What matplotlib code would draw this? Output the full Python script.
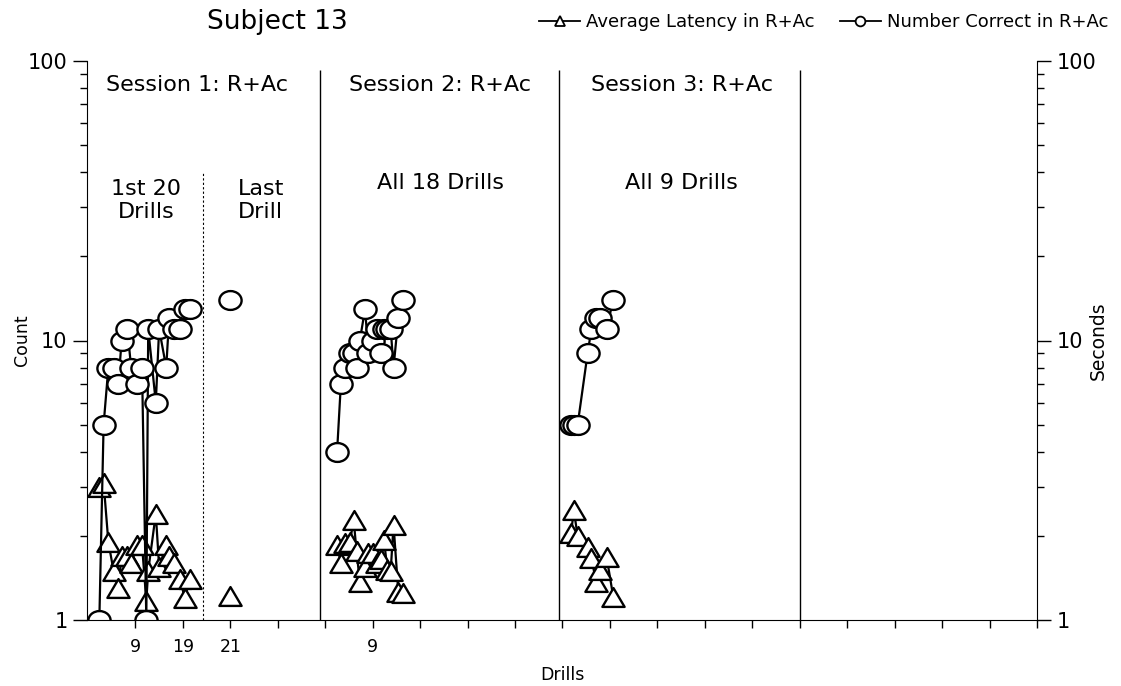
import numpy as np
import matplotlib
matplotlib.use("Agg")
import matplotlib.pyplot as plt
from matplotlib.lines import Line2D
from matplotlib.path import Path
from matplotlib.transforms import Affine2D
from matplotlib.ticker import NullFormatter

plt.rcParams['font.family'] = ['DejaVu Sans']

# session 1, first 20 drills (x in axis units)
s1_x = [1.4, 2.3, 3.3, 4.4, 5.4, 6.1, 7.3, 8.1, 9.4, 10.4,
        11.3, 11.7, 13.3, 14.0, 15.5, 16.1, 17.2, 18.4, 19.4, 20.5]
s1_count = [1, 5, 8, 8, 7, 10, 11, 8, 7, 8, 1, 11, 6, 11, 8, 12, 11, 11, 13, 13]
s1_lat = [3.0, 3.1, 1.9, 1.5, 1.3, 1.7, 1.7, 1.6, 1.85, 1.85,
          1.17, 1.5, 2.4, 1.55, 1.85, 1.7, 1.6, 1.4, 1.2, 1.4]

# session 1, last drill
last_x = [29]
last_count = [14]
last_lat = [1.22]

# session 2, all 18 drills
s2_x = [51.5, 52.3, 53.1, 54.2, 55.0, 55.6, 56.3, 57.4, 58.1, 59.1,
        60.0, 60.8, 61.4, 62.1, 62.8, 63.4, 64.4, 65.4]
s2_count = [4, 7, 8, 9, 9, 8, 10, 13, 9, 10, 11, 9, 11, 11, 11, 8, 12, 14]
s2_lat = [1.85, 1.6, 1.88, 1.9, 2.28, 1.76, 1.37, 1.55, 1.73, 1.73,
          1.6, 1.65, 1.93, 1.51, 1.5, 2.19, 1.26, 1.25]

# session 3, all 9 drills
s3_x = [100.8, 101.4, 102.2, 104.3, 105.1, 106.1, 106.9, 108.3, 109.7]
s3_count = [5, 5, 5, 9, 11, 12, 12, 11, 14]
s3_lat = [2.04, 2.47, 1.99, 1.83, 1.66, 1.37, 1.51, 1.68, 1.21]

session_lines = [48, 98.3, 149]
split_line = 23.2
tick_pos = list(range(9, 200, 10))
tick_labels = {9: '9', 19: '19', 29: '21', 59: '9'}

# slightly wide markers, like the original
oval = Path.unit_circle().transformed(Affine2D().scale(1.18, 1.0))
tri = Path([(0, 1), (-1.18, -1), (1.18, -1), (0, 1)],
           [Path.MOVETO, Path.LINETO, Path.LINETO, Path.CLOSEPOLY])

fig = plt.figure(figsize=(11.21, 6.86), dpi=100)
ax = fig.add_axes([87 / 1121, 66 / 686, 950 / 1121, 559 / 686])

mk = dict(color='black', lw=1.6, mfc='white', mec='black', mew=1.7)
for xs, cnt, lat in [(s1_x, s1_count, s1_lat), (last_x, last_count, last_lat),
                     (s2_x, s2_count, s2_lat), (s3_x, s3_count, s3_lat)]:
    ax.plot(xs, lat, marker=tri, ms=16, **mk)
    ax.plot(xs, cnt, marker=oval, ms=16, **mk)

ax.set_yscale('log')
ax.set_ylim(1, 100)
ax.set_xlim(-1.2, 199)

for xv in session_lines:
    ax.vlines(xv, 1, 93, color='black', lw=1)
ax.vlines(split_line, 1, 40, color='black', lw=0.8, linestyles=(0, (2, 2)))

ax.set_xticks(tick_pos)
ax.set_xticklabels([tick_labels.get(t, '') for t in tick_pos], fontsize=12.5)
ax.tick_params(axis='x', direction='out', length=6, width=1, pad=7)
ax.set_yticks([1, 10, 100])
ax.set_yticklabels(['1', '10', '100'], fontsize=15)
ax.tick_params(axis='y', which='major', direction='out', length=10, width=1,
               right=True, labelright=True, pad=4)
ax.tick_params(axis='y', which='minor', direction='out', length=5, width=1, right=True)
ax.yaxis.set_minor_formatter(NullFormatter())
ax.spines['top'].set_visible(False)

ax.set_xlabel('Drills', fontsize=12.5, labelpad=7)
ax.set_ylabel('Count', fontsize=12.5, labelpad=-2)
ax.text(1.064, 0.5, 'Seconds', transform=ax.transAxes, rotation=90,
        ha='center', va='center', fontsize=13.5)

lab = dict(ha='center', va='center', fontsize=16)
ax.text(22, 82, 'Session 1: R+Ac', **lab)
ax.text(73.2, 82, 'Session 2: R+Ac', **lab)
ax.text(124.2, 82, 'Session 3: R+Ac', **lab)
ax.text(11.2, 31.6, '1st 20\nDrills', linespacing=1.2, **lab)
ax.text(35.4, 31.6, 'Last\nDrill', linespacing=1.2, **lab)
ax.text(73.2, 36.5, 'All 18 Drills', **lab)
ax.text(124, 36.5, 'All 9 Drills', **lab)

fig.text(277 / 1121, 1 - 22 / 686, 'Subject 13', ha='center', va='center', fontsize=19)

handles = [Line2D([], [], color='black', lw=1.3, marker='^', ms=7, mfc='white', mew=1.3),
           Line2D([], [], color='black', lw=1.3, marker='o', ms=7, mfc='white', mew=1.3)]
fig.legend(handles, ['Average Latency in R+Ac', 'Number Correct in R+Ac'],
           loc='center right', bbox_to_anchor=(1117 / 1121, 1 - 22 / 686), ncol=2,
           frameon=False, fontsize=13, handlelength=2.3, handletextpad=0.3,
           columnspacing=1.4, borderpad=0)

fig.savefig('out.png', dpi=100)
